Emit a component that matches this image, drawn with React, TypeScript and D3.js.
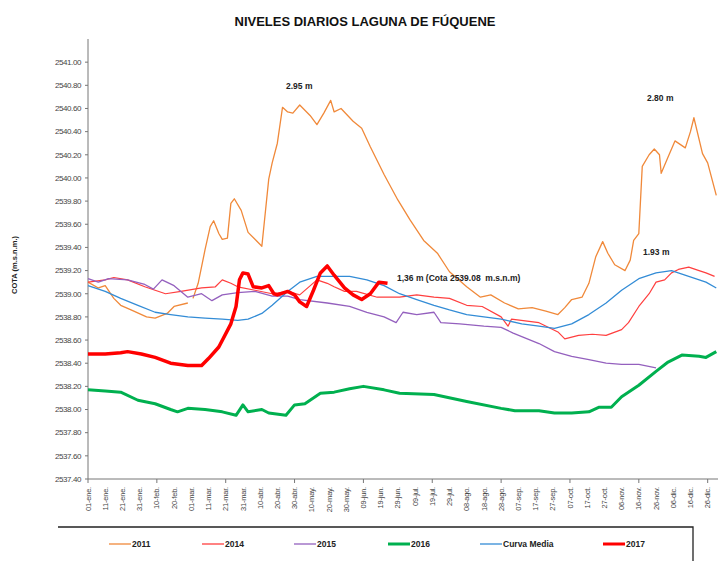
import React from "react";
import * as d3 from "d3";

// niveles diarios (día del año, cota m.s.n.m.)
const serie2011: [number, number | null][] = [
  [0, 2539.1], [6, 2539.05], [10, 2539.07], [15, 2538.96], [19, 2538.9], [25, 2538.86], [34, 2538.8],
  [39, 2538.79], [46, 2538.83], [50, 2538.89], [58, 2538.92], [60, null], [61, 2538.96], [64, 2539.09],
  [68, 2539.38], [71, 2539.58], [73, 2539.63], [76, 2539.52], [78, 2539.47], [81, 2539.48], [83, 2539.78],
  [85, 2539.82], [89, 2539.72], [93, 2539.53], [97, 2539.47], [101, 2539.41], [105, 2539.99], [107, 2540.13],
  [110, 2540.3], [113, 2540.61], [116, 2540.57], [119, 2540.56], [123, 2540.63], [129, 2540.54], [133, 2540.46],
  [137, 2540.56], [141, 2540.67], [143, 2540.57], [147, 2540.6], [154, 2540.49], [159, 2540.43], [164, 2540.27],
  [172, 2540.03], [180, 2539.81], [187, 2539.64], [195, 2539.46], [203, 2539.35], [210, 2539.19], [220, 2539.06],
  [228, 2538.97], [234, 2538.99], [242, 2538.92], [250, 2538.87], [258, 2538.88], [266, 2538.85], [273, 2538.82],
  [277, 2538.88], [281, 2538.95], [287, 2538.97], [291, 2539.09], [295, 2539.32], [299, 2539.45], [302, 2539.35],
  [306, 2539.25], [312, 2539.2], [315, 2539.29], [317, 2539.46], [320, 2539.52], [322, 2540.1], [326, 2540.2],
  [329, 2540.25], [332, 2540.2], [333, 2540.04], [337, 2540.18], [341, 2540.32], [344, 2540.29], [347, 2540.26],
  [350, 2540.4], [352, 2540.52], [357, 2540.21], [360, 2540.13], [365, 2539.85],
];

const serie2014: [number, number][] = [
  [0, 2539.1], [10, 2539.12], [15, 2539.14], [23, 2539.12], [33, 2539.06], [45, 2539.0], [54, 2539.02],
  [66, 2539.05], [74, 2539.06], [78, 2539.12], [83, 2539.09], [87, 2539.06], [97, 2539.03], [107, 2539.0],
  [116, 2539.02], [123, 2538.99], [133, 2539.12], [139, 2539.09], [143, 2539.06], [149, 2539.02], [156, 2539.02],
  [168, 2538.97], [181, 2538.97], [191, 2538.99], [201, 2538.97], [210, 2538.96], [220, 2538.9], [229, 2538.89],
  [240, 2538.8], [244, 2538.72], [246, 2538.78], [262, 2538.75], [273, 2538.67], [277, 2538.61], [285, 2538.64],
  [293, 2538.65], [301, 2538.64], [310, 2538.69], [314, 2538.75], [320, 2538.89], [326, 2539.0], [330, 2539.1],
  [335, 2539.12], [339, 2539.18], [343, 2539.21], [349, 2539.23], [355, 2539.2], [359, 2539.18], [364, 2539.15],
];

const serie2015: [number, number][] = [
  [0, 2539.13], [6, 2539.1], [12, 2539.13], [23, 2539.12], [33, 2539.08], [38, 2539.04], [43, 2539.12],
  [50, 2539.07], [58, 2538.97], [66, 2539.0], [72, 2538.94], [78, 2538.99], [87, 2539.01], [97, 2539.02],
  [107, 2538.98], [116, 2538.98], [123, 2538.95], [139, 2538.92], [152, 2538.89], [162, 2538.84], [172, 2538.8],
  [179, 2538.75], [183, 2538.84], [191, 2538.82], [201, 2538.84], [205, 2538.75], [216, 2538.74], [230, 2538.72],
  [240, 2538.71], [247, 2538.66], [252, 2538.63], [262, 2538.57], [271, 2538.5], [281, 2538.46], [291, 2538.43],
  [301, 2538.4], [310, 2538.39], [320, 2538.39], [330, 2538.36],
];

const serie2016: [number, number][] = [
  [0, 2538.17], [10, 2538.16], [19, 2538.15], [29, 2538.08], [39, 2538.05], [48, 2538.0], [52, 2537.98],
  [58, 2538.01], [68, 2538.0], [78, 2537.98], [86, 2537.95], [90, 2538.04], [93, 2537.98], [101, 2538.0],
  [105, 2537.97], [115, 2537.95], [120, 2538.04], [126, 2538.05], [135, 2538.14], [143, 2538.15], [152, 2538.18],
  [160, 2538.2], [172, 2538.17], [181, 2538.14], [201, 2538.13], [220, 2538.07], [240, 2538.01], [248, 2537.99],
  [262, 2537.99], [271, 2537.97], [281, 2537.97], [291, 2537.98], [297, 2538.02], [304, 2538.02], [310, 2538.11],
  [320, 2538.21], [330, 2538.33], [337, 2538.41], [345, 2538.47], [355, 2538.46], [359, 2538.45], [365, 2538.5],
];

const curvaMedia: [number, number][] = [
  [0, 2539.07], [10, 2539.02], [19, 2538.96], [29, 2538.9], [39, 2538.84], [48, 2538.82], [58, 2538.8],
  [68, 2538.79], [78, 2538.78], [87, 2538.77], [93, 2538.78], [101, 2538.83], [107, 2538.9], [116, 2539.02],
  [123, 2539.1], [133, 2539.15], [143, 2539.15], [152, 2539.15], [162, 2539.12], [172, 2539.07], [181, 2539.0],
  [191, 2538.95], [201, 2538.9], [210, 2538.86], [220, 2538.82], [230, 2538.8], [240, 2538.78], [252, 2538.74],
  [262, 2538.72], [271, 2538.7], [281, 2538.74], [291, 2538.82], [301, 2538.92], [310, 2539.03], [320, 2539.13],
  [330, 2539.18], [339, 2539.2], [349, 2539.15], [359, 2539.1], [365, 2539.05],
];

const serie2017: [number, number][] = [
  [0, 2538.48], [10, 2538.48], [19, 2538.49], [23, 2538.5], [31, 2538.48], [39, 2538.45], [48, 2538.4],
  [58, 2538.38], [66, 2538.38], [70, 2538.44], [76, 2538.54], [83, 2538.74], [86, 2538.89], [88, 2539.12],
  [90, 2539.18], [93, 2539.17], [96, 2539.06], [101, 2539.05], [105, 2539.07], [108, 2539.0], [110, 2538.99],
  [116, 2539.02], [120, 2538.99], [123, 2538.93], [127, 2538.89], [131, 2539.03], [135, 2539.18], [139, 2539.24],
  [143, 2539.16], [149, 2539.05], [154, 2538.99], [159, 2538.95], [164, 2539.0], [169, 2539.1], [174, 2539.09],
];

const etiquetasDias = [
  "01-ene.", "11-ene.", "21-ene.", "31-ene.", "10-feb.", "20-feb.", "01-mar.", "11-mar.", "21-mar.", "31-mar.",
  "10-abr.", "20-abr.", "30-abr.", "10-may.", "20-may.", "30-may.", "09-jun.", "19-jun.", "29-jun.", "09-jul.",
  "19-jul.", "29-jul.", "08-ago.", "18-ago.", "28-ago.", "07-sep.", "17-sep.", "27-sep.", "07-oct.", "17-oct.",
  "27-oct.", "06-nov.", "16-nov.", "26-nov.", "06-dic.", "16-dic.", "26-dic.",
];

const series = [
  { nombre: "2011", datos: serie2011, color: "#F0893A", ancho: 1.3 },
  { nombre: "2014", datos: serie2014, color: "#FF3F3F", ancho: 1.2 },
  { nombre: "2015", datos: serie2015, color: "#9460BE", ancho: 1.3 },
  { nombre: "2016", datos: serie2016, color: "#00B04F", ancho: 3 },
  { nombre: "Curva Media", datos: curvaMedia, color: "#338CD6", ancho: 1.3 },
  { nombre: "2017", datos: serie2017, color: "#FF0000", ancho: 3.5 },
];

const font = "'Liberation Sans', Arial, sans-serif";

export default function App() {
  const width = 718;
  const height = 561;
  const x = d3.scaleLinear().domain([0, 366]).range([88, 718]);
  const y = d3.scaleLinear().domain([2537.4, 2541.2]).range([479, 39]);
  const yTicks = d3.range(18 + 1).map((i) => 2537.4 + i * 0.2);

  const line = d3
    .line<[number, number | null]>()
    .defined((d) => d[1] != null)
    .x((d) => x(d[0]))
    .y((d) => y(d[1] as number));

  const legendX = [109, 202, 294, 388, 480, 603];

  return (
    <svg width={width} height={height} style={{ position: "absolute", left: 0, top: 0, background: "#fff" }}>
      <text x={365} y={26} textAnchor="middle" fontFamily={font} fontWeight="bold" fontSize={13} fill="#111">
        NIVELES DIARIOS LAGUNA DE FÚQUENE
      </text>

      {/* eje Y */}
      <line x1={88} x2={88} y1={39} y2={479} stroke="#777" />
      {yTicks.map((t) => (
        <g key={t}>
          <line x1={85} x2={88} y1={y(t)} y2={y(t)} stroke="#777" />
          <text x={81} y={y(t)} dy="0.35em" textAnchor="end" fontFamily={font} fontSize={8} letterSpacing={-0.4} fill="#444">
            {t.toFixed(2)}
          </text>
        </g>
      ))}
      <text
        transform={`translate(17,265) rotate(-90)`}
        textAnchor="middle"
        fontFamily={font}
        fontWeight="bold"
        fontSize={7.5}
        fill="#222"
      >
        COTA (m.s.n.m.)
      </text>

      {/* eje X */}
      <line x1={88} x2={718} y1={479} y2={479} stroke="#777" />
      {d3.range(0, 361, 40).map((d) => (
        <line key={d} x1={x(d)} x2={x(d)} y1={479} y2={483} stroke="#777" />
      ))}
      {etiquetasDias.map((lab, i) => (
        <text
          key={lab}
          transform={`translate(${x(i * 10)},487) rotate(-90)`}
          dy="0.35em"
          textAnchor="end"
          fontFamily={font}
          fontSize={7.5}
          letterSpacing={-0.2}
          fill="#444"
        >
          {lab}
        </text>
      ))}

      {/* series */}
      {series.map((s) => (
        <path
          key={s.nombre}
          d={line(s.datos as [number, number | null][]) || ""}
          fill="none"
          stroke={s.color}
          strokeWidth={s.ancho}
          strokeLinejoin="round"
        />
      ))}

      {/* anotaciones */}
      <g fontFamily={font} fontWeight="bold" fontSize={8.5} fill="#222">
        <text x={286} y={89}>2.95 m</text>
        <text x={647} y={101}>2.80 m</text>
        <text x={643} y={255}>1.93 m</text>
        <text x={397} y={281}>{"1,36 m (Cota 2539.08\u00A0\u00A0m.s.n.m)"}</text>
      </g>

      {/* leyenda */}
      <path d="M58,527 H693 V570" fill="none" stroke="#222" strokeWidth={1.3} />
      {series.map((s, i) => (
        <g key={s.nombre} transform={`translate(${legendX[i]},544)`}>
          <line x1={0} x2={22} y1={0} y2={0} stroke={s.color} strokeWidth={s.ancho > 2 ? 3 : 1.3} />
          <text x={23} y={0} dy="0.35em" fontFamily={font} fontWeight="bold" fontSize={8.5} fill="#222">
            {s.nombre}
          </text>
        </g>
      ))}
    </svg>
  );
}
